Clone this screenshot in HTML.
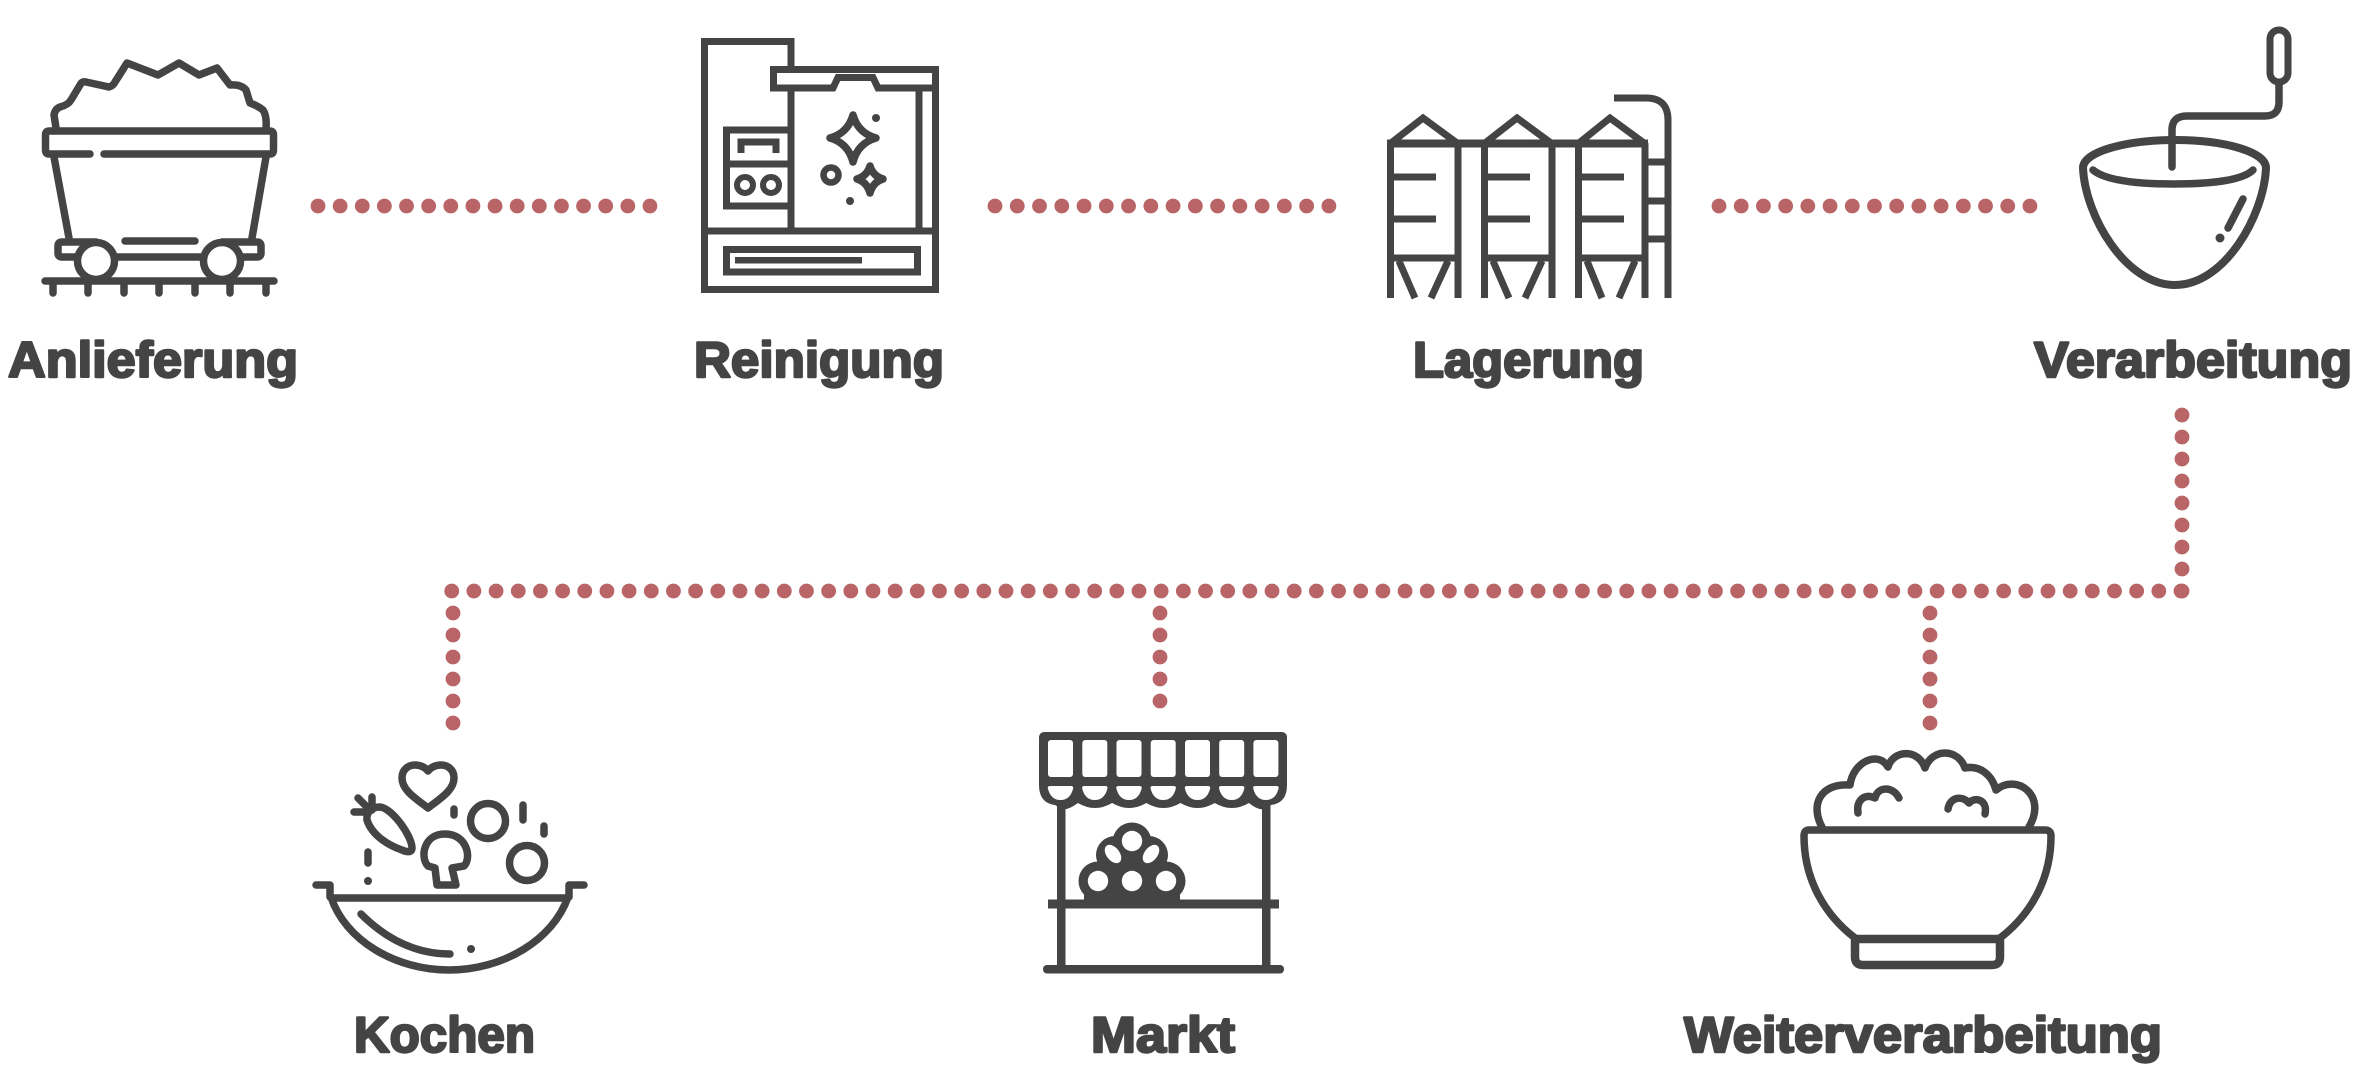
<!DOCTYPE html>
<html lang="de">
<head>
<meta charset="utf-8">
<title>Prozess</title>
<style>
html,body{margin:0;padding:0;background:#fff}
svg{display:block}
text{font-family:"Liberation Sans",Arial,sans-serif;font-weight:700;font-size:50px;fill:#444;stroke:#444;stroke-width:2.4px;stroke-linejoin:round}
.s{fill:none;stroke:#444;stroke-width:7.5;stroke-linecap:round;stroke-linejoin:round}
.m{fill:none;stroke:#444;stroke-width:7;stroke-linecap:butt;stroke-linejoin:miter}
.d{fill:none;stroke:#b96567;stroke-width:14.8;stroke-linecap:round}
.f{fill:#444;stroke:none}
.w{fill:#fff;stroke:none}
</style>
</head>
<body>
<svg width="2362" height="1089" viewBox="0 0 2362 1089" xmlns="http://www.w3.org/2000/svg">
<rect width="2362" height="1089" fill="#fff"/>

<!-- connectors -->
<line class="d" x1="318" y1="206" x2="652" y2="206" stroke-dasharray="0 22.13"/>
<line class="d" x1="995" y1="206" x2="1331" y2="206" stroke-dasharray="0 22.26"/>
<line class="d" x1="1719" y1="206" x2="2032" y2="206" stroke-dasharray="0 22.21"/>
<line class="d" x1="2182" y1="415" x2="2182" y2="593" stroke-dasharray="0 22"/>
<line class="d" x1="2181" y1="591" x2="450" y2="591" stroke-dasharray="0 22.17"/>
<line class="d" x1="453" y1="613" x2="453" y2="725" stroke-dasharray="0 22"/>
<line class="d" x1="1160" y1="613" x2="1160" y2="703" stroke-dasharray="0 22"/>
<line class="d" x1="1930" y1="613" x2="1930" y2="725" stroke-dasharray="0 22"/>

<!-- Anlieferung: cart -->
<path class="s" d="M56 128 L54 115 Q55 109 60 107 Q68 105 71 100 L80 85 Q82 81 86 82 L109 87 Q113 86 115 82 L127 63 L158 75 L179 63 L199 75 L217 68 L230 85 Q241 84 246 90 L250 103 Q258 106 263 110 Q267 116 266 128"/>
<path class="s" d="M90 154 H49 Q45.500 154 45.500 150 V135 Q45.500 131 49 131 H270 Q273.500 131 273.500 135 V150 Q273.500 154 270 154 H104"/>
<path class="s" d="M54 157 L69 238 M266 157 L252 238"/>
<path class="s" d="M96 242 H62 Q58 242 58 246 V253 Q58 257 62 257 H257 Q261 257 261 253 V246 Q261 242 257 242 H222"/>
<line class="s" x1="125" y1="241" x2="195" y2="241"/>
<circle cx="96" cy="261" r="18.500" fill="#fff" stroke="#444" stroke-width="7.500"/>
<circle cx="222" cy="261" r="18.500" fill="#fff" stroke="#444" stroke-width="7.500"/>
<path class="s" d="M45 281 H274 M53 281 V293 M88 281 V293 M124 281 V293 M159 281 V293 M195 281 V293 M230 281 V293 M266 281 V293"/>

<!-- Reinigung: machine -->
<path class="m" d="M791 69 V41.500 H704.500 V289.500 H935.500 V69.500 H773.500 V88 H833 L838 77.500 H873 L878 88 H935.500"/>
<path class="m" d="M791 88 V231 M919 88 V231 M704 231 H936"/>
<path class="m" d="M791 130 H726.500 V206 H791 M726 164 H791"/>
<path class="m" d="M741 153 V142 H776 V153" stroke-width="6"/>
<circle cx="745" cy="185" r="8" fill="none" stroke="#444" stroke-width="6"/>
<circle cx="771" cy="185" r="8" fill="none" stroke="#444" stroke-width="6"/>
<rect x="726.500" y="249.500" width="191" height="22.500" fill="none" stroke="#444" stroke-width="7"/>
<rect x="735" y="257" width="127" height="6.500" fill="#444"/>
<path class="s" d="M853 115 Q858 133 876 138 Q858 143 853 162 Q848 143 830 138 Q848 133 853 115Z" stroke-width="7"/>
<path class="s" d="M870 166 Q873 176 883 179 Q873 182 870 193 Q867 182 857 179 Q867 176 870 166Z" stroke-width="6.500"/>
<circle cx="831" cy="175" r="7.500" fill="none" stroke="#444" stroke-width="6.500"/>
<circle cx="876" cy="118" r="4" class="f"/>
<circle cx="850" cy="201" r="4" class="f"/>

<!-- Lagerung: silos -->
<g>
<path class="m" d="M1390.500 298 V143 M1458 143 V298 M1391 143 L1423 118 L1457 143"/>
<rect x="1387" y="139.500" width="74" height="8" class="f"/>
<path class="m" d="M1390 177 H1436 M1390 219 H1436" stroke-width="8"/>
<path class="m" d="M1387 258 H1461" stroke-width="8"/>
<path class="m" d="M1399 261 L1415 298 M1448 261 L1431 298" stroke-width="6"/>
</g>
<g>
<path class="m" d="M1484.500 298 V143 M1552 143 V298 M1485 143 L1517 118 L1551 143"/>
<rect x="1481" y="139.500" width="74" height="8" class="f"/>
<path class="m" d="M1484 177 H1530 M1484 219 H1530" stroke-width="8"/>
<path class="m" d="M1481 258 H1555" stroke-width="8"/>
<path class="m" d="M1493 261 L1509 298 M1542 261 L1525 298" stroke-width="6"/>
</g>
<g>
<path class="m" d="M1578.500 298 V143 M1645 143 V298 M1579 143 L1610 118 L1644 143"/>
<rect x="1575" y="139.500" width="73" height="8" class="f"/>
<path class="m" d="M1578 177 H1624 M1578 219 H1624" stroke-width="8"/>
<path class="m" d="M1575 258 H1648" stroke-width="8"/>
<path class="m" d="M1587 261 L1602 298 M1635 261 L1619 298" stroke-width="6"/>
</g>
<rect x="1461" y="139.500" width="20" height="8" class="f"/>
<rect x="1555" y="139.500" width="20" height="8" class="f"/>
<path class="m" d="M1614 98 H1646 Q1668 98 1668 120 V298"/>
<path class="m" d="M1648 162 H1668 M1648 201 H1668 M1648 239 H1668"/>

<!-- Verarbeitung: bowl -->
<rect x="2270" y="30" width="18" height="52" rx="9" fill="none" stroke="#444" stroke-width="7"/>
<path class="s" d="M2279 84 V102 Q2279 116 2265 116 H2187 Q2172 116 2172 130 V167" stroke-linecap="butt" stroke-width="7"/>
<path fill="none" stroke="#444" stroke-width="8" d="M2083 168 C2083 152 2125 140 2175 140 C2225 140 2266 152 2266 168 C2264 215 2225 285 2175 285 C2125 285 2085 215 2083 168Z"/>
<path class="s" d="M2093 170 C2105 180 2135 184 2174 184 C2213 184 2243 180 2253 170" stroke-width="8"/>
<path class="s" d="M2243 199 L2228 228" stroke-width="6"/>
<circle cx="2220" cy="238" r="4.500" class="f"/>

<!-- Kochen -->
<path class="s" d="M428 808 C415 798 402 790 402 778 C402 769 409 765 415 765 C421 765 426 768 428 771 C430 768 435 765 441 765 C447 765 454 769 454 778 C454 790 441 798 428 808Z"/>
<path class="s" d="M454 809 V815 M523 805 V820 M544 826 V834 M368 852 V863"/>
<circle cx="488" cy="821" r="17.500" fill="none" stroke="#444" stroke-width="7.500"/>
<circle cx="527" cy="863" r="17.500" fill="none" stroke="#444" stroke-width="7.500"/>
<circle cx="368" cy="881" r="4" class="f"/>
<circle cx="471" cy="949" r="4" class="f"/>
<path class="s" d="M367 820 C366 812 372 807 380 807 C392 808 412 836 412 848 C412 853 406 852 402 850 C390 846 372 836 367 820Z"/>
<path class="s" d="M372 797 V810 M358 798 L368 808 M354 812 H368"/>
<path class="s" d="M428 866 C420 858 423 834 445 834 C467 834 472 858 464 866 L452 868 L456 885 H437 L435 868Z"/>
<path class="s" d="M332 898 H567 M316 885 H330 V897 M569 885 V897 M569 885 H584"/>
<path class="s" d="M331 897 C345 940 395 970 449 970 C503 970 553 940 568 897"/>
<path class="s" d="M361 914 C385 938 415 954 450 954" stroke-width="7"/>

<!-- Markt -->
<path class="f" d="M1044 732 H1282 a5 5 0 0 1 5 5 V785 Q1287 803 1271 805 L1266 808 Q1260 812 1248.900 803 Q1231.800 813 1214.700 803 Q1197.600 813 1180.500 803 Q1163.400 813 1146.300 803 Q1129.200 813 1112.100 803 Q1095 813 1077.900 803 Q1066 812 1060 808 L1055 805 Q1039 803 1039 785 V737 a5 5 0 0 1 5 -5Z"/>
<g class="w">
<rect x="1048" y="740" width="25" height="37" rx="3"/>
<rect x="1082.300" y="740" width="25" height="37" rx="3"/>
<rect x="1116.500" y="740" width="25" height="37" rx="3"/>
<rect x="1150.700" y="740" width="25" height="37" rx="3"/>
<rect x="1185" y="740" width="25" height="37" rx="3"/>
<rect x="1219.200" y="740" width="25" height="37" rx="3"/>
<rect x="1253.400" y="740" width="25" height="37" rx="3"/>
<path d="M1050 786 h21 q3 0 2 3 q-3 11 -12.500 11 q-9.500 0 -12.500 -11 q-1 -3 2 -3z"/>
<path d="M1084.300 786 h21 q3 0 2 3 q-3 11 -12.500 11 q-9.500 0 -12.500 -11 q-1 -3 2 -3z"/>
<path d="M1118.500 786 h21 q3 0 2 3 q-3 11 -12.500 11 q-9.500 0 -12.500 -11 q-1 -3 2 -3z"/>
<path d="M1152.700 786 h21 q3 0 2 3 q-3 11 -12.500 11 q-9.500 0 -12.500 -11 q-1 -3 2 -3z"/>
<path d="M1187 786 h21 q3 0 2 3 q-3 11 -12.500 11 q-9.500 0 -12.500 -11 q-1 -3 2 -3z"/>
<path d="M1221.200 786 h21 q3 0 2 3 q-3 11 -12.500 11 q-9.500 0 -12.500 -11 q-1 -3 2 -3z"/>
<path d="M1255.400 786 h21 q3 0 2 3 q-3 11 -12.500 11 q-9.500 0 -12.500 -11 q-1 -3 2 -3z"/>
</g>
<rect x="1057" y="804" width="8.500" height="164" class="f"/>
<rect x="1262" y="804" width="8.500" height="164" class="f"/>
<rect x="1048" y="899.500" width="231" height="9" class="f"/>
<rect x="1043" y="965" width="241" height="8.500" rx="4" class="f"/>
<g class="f">
<circle cx="1132" cy="842" r="19.500"/>
<circle cx="1115" cy="855" r="19"/>
<circle cx="1149" cy="855" r="19"/>
<circle cx="1098" cy="881" r="19.500"/>
<circle cx="1132" cy="881" r="19.500"/>
<circle cx="1166" cy="881" r="19.500"/>
<rect x="1084" y="880" width="96" height="22"/>
<rect x="1110" y="850" width="44" height="30"/>
</g>
<g class="w">
<circle cx="1132" cy="841" r="10.200"/>
<circle cx="1098" cy="881" r="10.200"/>
<circle cx="1132" cy="881" r="10.200"/>
<circle cx="1166" cy="881" r="10.200"/>
<ellipse cx="1113" cy="854" rx="6.500" ry="10.500" transform="rotate(-38 1113 854)"/>
<ellipse cx="1151" cy="854" rx="6.500" ry="10.500" transform="rotate(38 1151 854)"/>
</g>

<!-- Weiterverarbeitung: rice bowl -->
<path class="s" d="M1822 827 C1810 805 1820 783 1850 785 C1853 762 1878 750 1888 767 C1893 750 1918 748 1925 768 C1932 748 1958 748 1965 768 C1980 765 1992 775 1996 790 C2016 773 2048 795 2029 827" stroke-width="8"/>
<path class="s" d="M1858 813 C1856 800 1865 793 1875 798 C1878 786 1893 786 1899 798" stroke-width="8"/>
<path class="s" d="M1948 809 C1950 797 1962 795 1969 803 C1975 796 1988 800 1985 814" stroke-width="8"/>
<path class="s" d="M1809 830 H2045 Q2051 830 2051 836 C2051 880 2030 915 2000 938 M1809 830 Q1804 830 1804 836 C1804 880 1825 915 1855 938" stroke-width="8.500"/>
<path fill="none" stroke="#444" stroke-width="8.500" d="M1855 939 H2000 V957 Q2000 965 1992 965 H1863 Q1855 965 1855 957Z"/>

<!-- labels -->
<text x="8" y="377" textLength="290" lengthAdjust="spacingAndGlyphs">Anlieferung</text>
<text x="694" y="377" textLength="250" lengthAdjust="spacingAndGlyphs">Reinigung</text>
<text x="1413" y="377" textLength="231" lengthAdjust="spacingAndGlyphs">Lagerung</text>
<text x="2034" y="377" textLength="318" lengthAdjust="spacingAndGlyphs">Verarbeitung</text>
<text x="354" y="1052" textLength="181" lengthAdjust="spacingAndGlyphs">Kochen</text>
<text x="1091" y="1052" textLength="144" lengthAdjust="spacingAndGlyphs">Markt</text>
<text x="1684" y="1052" textLength="478" lengthAdjust="spacingAndGlyphs">Weiterverarbeitung</text>
</svg>
</body>
</html>
